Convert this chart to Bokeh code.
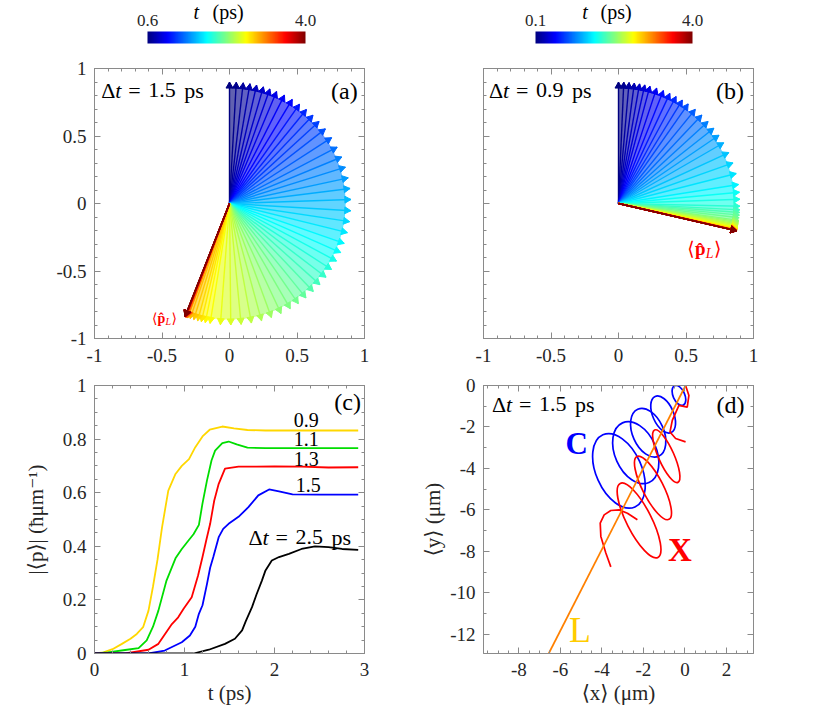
import numpy as np
from bokeh.plotting import figure
from bokeh.models import Range1d, LinearAxis, Label, FixedTicker, LinearColorMapper, ColumnDataSource
from bokeh.layouts import column, row
from bokeh.embed import file_html
from bokeh.resources import INLINE
from bokeh.transform import linear_cmap

FONT = "Liberation Serif, DejaVu Serif, serif"
GRAY = "#8a8a8a"
TXT = "#262626"

# ---------------- data: panel (a) arrow directions ----------------
t_a = [0.60, 0.65, 0.70, 0.75, 0.80, 0.85, 0.90, 0.95, 1.00, 1.05, 1.10, 1.15, 1.20, 1.25,
       1.30, 1.35, 1.40, 1.45, 1.50, 1.55, 1.60, 1.65, 1.70, 1.75, 1.80, 1.85, 1.90, 1.95,
       2.00, 2.05, 2.10, 2.15, 2.20, 2.25, 2.30, 2.35, 2.40, 2.45, 2.50, 2.55, 2.60, 2.65,
       2.70, 2.75, 2.80, 2.85, 2.90, 2.95, 3.00, 3.05, 3.10, 3.15, 3.20, 3.25, 3.30, 3.35,
       3.40, 3.45, 3.50, 3.55, 3.60, 3.65, 3.70, 3.75, 3.80, 3.85, 3.90, 3.95, 4.00]
ang_a = [90, 86.8, 83.5, 80.3, 77.1, 73.8, 70.6, 67.2, 63.1, 58.9, 54.8, 50.7, 46.6, 42.5,
         37.9, 32.8, 27.6, 22.5, 17.4, 12.2, 7.1, 1.9, -3.4, -8.6, -13.9, -19.2, -23.8, -28.3,
         -32.9, -37.4, -41.9, -46.4, -51.0, -55.5, -60.0, -64.9, -69.8, -74.7, -79.6, -84.5,
         -89.4, -94.3, -99.2, -101.5, -103.4, -105.2, -107.1, -108.9, -110.1, -110.2, -110.4,
         -110.5, -110.6, -110.8, -110.9, -111.0, -111.1, -111.1, -111.2, -111.2, -111.2,
         -111.3, -111.3, -111.3, -111.4, -111.4, -111.4, -111.5, -111.5]

# ---------------- data: panel (b) arrow directions ----------------
t_b = [0.100, 0.165, 0.230, 0.295, 0.360, 0.425, 0.490, 0.555, 0.620, 0.685, 0.750, 0.815,
       0.880, 0.945, 1.010, 1.075, 1.140, 1.205, 1.270, 1.335, 1.400, 1.465, 1.530, 1.595,
       1.660, 1.725, 1.790, 1.855, 1.920, 1.985, 2.050, 2.115, 2.180, 2.245, 2.310, 2.375,
       2.440, 2.505, 2.570, 2.635, 2.700, 2.765, 2.830, 2.895, 2.960, 3.025, 3.090, 3.155,
       3.220, 3.285, 3.350, 3.415, 3.480, 3.545, 3.610, 3.675, 3.740, 3.805, 3.870, 3.935, 4.000]
ang_b = [90, 87.5, 85, 82.5, 80, 77.5, 75, 71.7, 68.3, 65, 61.7, 58.3, 55, 50.8, 46.7, 42.5,
         38.3, 34.2, 30, 24.8, 19.5, 14.3, 9.0, 5.3, 2.0, -1.3, -3.0, -4.25, -5.5, -6.75, -8.0,
         -8.6, -9.2, -9.75, -10.3, -10.9, -11.5, -11.7, -11.9, -12.15, -12.4, -12.6, -12.8,
         -12.8, -12.8, -12.8, -12.85, -12.85, -12.9, -12.9, -12.9, -12.9, -12.95, -12.95,
         -12.95, -13, -13, -13, -13, -13, -13]

# ---------------- data: panel (c) |<p>| curves ----------------
t09 = [0, 0.1, 0.2, 0.3, 0.4, 0.47, 0.54, 0.6, 0.65, 0.7, 0.75, 0.82, 0.9, 0.97, 1.05, 1.12,
       1.2, 1.28, 1.42, 1.55, 1.7, 1.9, 2.2, 2.6, 2.93]
y09 = [0, 0.004, 0.016, 0.035, 0.055, 0.073, 0.098, 0.16, 0.25, 0.35, 0.47, 0.608, 0.67, 0.70,
       0.725, 0.77, 0.81, 0.835, 0.847, 0.84, 0.834, 0.832, 0.832, 0.832, 0.832]
t11 = [0, 0.15, 0.34, 0.49, 0.58, 0.65, 0.71, 0.8, 0.9, 0.97, 1.04, 1.1, 1.16, 1.2, 1.25, 1.3,
       1.34, 1.42, 1.49, 1.58, 1.7, 1.9, 2.2, 2.93]
y11 = [0, 0.004, 0.013, 0.02, 0.049, 0.10, 0.16, 0.272, 0.355, 0.39, 0.42, 0.445, 0.48, 0.56,
       0.646, 0.72, 0.757, 0.785, 0.791, 0.78, 0.768, 0.766, 0.766, 0.766]
t13 = [0, 0.34, 0.6, 0.71, 0.86, 0.93, 0.99, 1.08, 1.15, 1.2, 1.24, 1.285, 1.33, 1.38, 1.45,
       1.6, 1.8, 2.0, 2.3, 2.6, 2.93]
y13 = [0, 0, 0.014, 0.036, 0.11, 0.135, 0.167, 0.21, 0.29, 0.36, 0.42, 0.484, 0.57, 0.633,
       0.69, 0.697, 0.697, 0.698, 0.697, 0.694, 0.695]
t15 = [0, 0.6, 0.78, 0.97, 1.06, 1.12, 1.16, 1.2, 1.25, 1.285, 1.32, 1.38, 1.43, 1.49, 1.6,
       1.71, 1.82, 1.94, 2.05, 2.2, 2.5, 2.93]
y15 = [0, 0, 0.011, 0.042, 0.067, 0.10, 0.148, 0.18, 0.26, 0.32, 0.36, 0.434, 0.465, 0.484,
       0.51, 0.546, 0.59, 0.612, 0.605, 0.594, 0.593, 0.593]
t25 = [0, 1.1, 1.27, 1.45, 1.56, 1.64, 1.68, 1.75, 1.8, 1.86, 1.9, 1.97, 2.05, 2.16, 2.3, 2.45,
       2.6, 2.75, 2.93]
y25 = [0, 0, 0.014, 0.036, 0.055, 0.086, 0.12, 0.173, 0.22, 0.272, 0.31, 0.347, 0.36, 0.372,
       0.39, 0.40, 0.397, 0.39, 0.387]
curve_labels = ["0.9", "1.1", "1.3", "1.5"]
curve_label_t = [2.215, 2.215, 2.215, 2.235]
curve_label_y = [0.873, 0.80, 0.726, 0.63]

# ---------------- data: panel (d) trajectories ----------------
# circular (C): chain of loops, centre / full axes / tilt
blue_loop_x = [-0.29, -1.05, -1.77, -2.37, -3.18]
blue_loop_y = [-0.48, -1.40, -2.28, -3.24, -4.12]
blue_loop_w = [1.02, 1.9, 2.48, 3.14, 3.8]
blue_loop_h = [0.56, 1.0, 1.5, 2.0, 2.2]
blue_loop_ang = [-66, -66, -66, -66, -66]
# cross (X): start, loops, open end
red_start_x = [0.03, 0.19, 0.11, -0.29, -0.61, -0.72, -0.45, 0.03]
red_start_y = [0.0, -0.48, -1.04, -0.96, -1.68, -2.24, -2.56, -2.72]
red_loop_x = [-0.9, -1.54, -2.21]
red_loop_y = [-3.41, -4.94, -6.51]
red_loop_w = [2.76, 3.4, 4.0]
red_loop_h = [0.75, 1.0, 1.2]
red_loop_ang = [-66, -63, -63]
red_end_x = [-2.29, -2.77, -3.17, -3.57, -3.89, -4.08, -4.05, -3.81, -3.57]
red_end_y = [-6.48, -6.16, -6.0, -6.03, -6.24, -6.64, -7.28, -8.08, -8.75]
# linear (L)
lin_x = [0.03, -6.56]
lin_y = [0.0, -12.93]


def make_jet(n=256):
    out = []
    for i in range(n):
        v = i / (n - 1)
        r = min(max(1.5 - abs(4 * v - 3), 0), 1)
        g = min(max(1.5 - abs(4 * v - 2), 0), 1)
        b = min(max(1.5 - abs(4 * v - 1), 0), 1)
        out.append("#%02x%02x%02x" % (round(r * 255), round(g * 255), round(b * 255)))
    return out


JET = make_jet()


def style_axis(ax, ticks, minor, labels=True, overrides=None, standoff=8, size="19px"):
    ax.ticker = FixedTicker(ticks=ticks, minor_ticks=minor)
    ax.axis_line_color = GRAY
    ax.major_tick_line_color = GRAY
    ax.minor_tick_line_color = GRAY
    ax.major_tick_in = 6
    ax.major_tick_out = 0
    ax.minor_tick_in = 3
    ax.minor_tick_out = 0
    ax.major_label_text_font = FONT
    ax.major_label_text_color = TXT
    ax.axis_label_text_font = FONT
    ax.axis_label_text_font_style = "normal"
    ax.axis_label_text_font_size = "21px"
    ax.axis_label_text_color = TXT
    if labels:
        ax.major_label_text_font_size = size
        ax.major_label_standoff = standoff
        if overrides:
            ax.major_label_overrides = overrides
    else:
        ax.major_label_text_font_size = "1px"
        ax.major_label_text_color = None
        ax.major_label_standoff = 0


def panel(xr, yr, left, right, top, bottom, fh=270):
    p = figure(frame_width=270, frame_height=fh, x_range=xr, y_range=yr,
               output_backend="svg", toolbar_location=None,
               min_border_left=left, min_border_right=right,
               min_border_top=top, min_border_bottom=bottom,
               background_fill_color="white", border_fill_color="white",
               outline_line_color=GRAY)
    p.grid.visible = False
    return p


def add_mirror(p, xt, xm, yt, ym):
    top = LinearAxis()
    style_axis(top, xt, xm, labels=False)
    p.add_layout(top, "above")
    rgt = LinearAxis()
    style_axis(rgt, yt, ym, labels=False)
    p.add_layout(rgt, "right")


def pieces(p, x, y, parts, color="black", align="left"):
    for txt, style, dx, dy, sz in parts:
        p.add_layout(Label(x=x, y=y, x_offset=dx, y_offset=dy, text=txt, text_font=FONT,
                           text_font_size=f"{sz}px", text_font_style=style, text_color=color,
                           text_baseline="middle", text_align=align))


def delta_label(p, x, y, val, sz=22):
    pieces(p, x, y, [("\u0394", "normal", 0, 0, sz), ("t", "italic", 14, 0, sz),
                     ("=", "normal", 27, 0, sz), (val, "normal", 47, 0, sz),
                     ("ps", "normal", 83, 0, sz)])


def pl_label(p, x, y, sz):
    k = sz / 16.0
    pieces(p, x, y, [("\u27e8", "normal", 0, 0, sz), ("p\u0302", "bold", 6.5 * k, 0, sz),
                     ("L", "italic", 15.5 * k, -4 * k, round(sz * 0.72)),
                     ("\u27e9", "normal", 22.5 * k, 0, sz)], color="#ff0000")


def corner(p, x, y, txt):
    p.add_layout(Label(x=x, y=y, text=txt, text_font=FONT, text_font_size="24px",
                       text_align="right", text_baseline="middle", text_color="black"))


def fan(p, t, ang, lo, hi, R=0.9):
    angf = np.array(ang, dtype=float)
    tf = np.array(t, dtype=float)
    th = np.radians(angf)
    src = ColumnDataSource(dict(t=tf, x1=R * np.cos(th), y1=R * np.sin(th),
                                hx=(R - 0.03) * np.cos(th), hy=(R - 0.03) * np.sin(th),
                                ha=angf - 90))
    cmap = linear_cmap("t", JET, lo, hi)
    # shading between successive directions (colour of the earlier arrow)
    keep = (angf[:-1] - angf[1:]) > 0.05
    wsrc = ColumnDataSource(dict(t=tf[:-1][keep], a0=angf[1:][keep], a1=angf[:-1][keep]))
    p.wedge(x=0, y=0, radius=R - 0.04, start_angle="a0", end_angle="a1",
            start_angle_units="deg", end_angle_units="deg", direction="anticlock",
            source=wsrc, fill_color=cmap, fill_alpha=0.62, line_color=None)
    p.segment(x0=0, y0=0, x1="x1", y1="y1", source=src, line_color=cmap, line_width=1.4)
    p.scatter(x="hx", y="hy", source=src, marker="triangle", size=7, angle="ha",
              angle_units="deg", fill_color=cmap, line_color=cmap)


def colorbar_fig(W, L, R, lo, hi, tpos, pspos):
    k = (hi - lo) / (R - L)
    p = figure(width=W, height=56, x_range=Range1d(lo - L * k, hi + (W - R) * k),
               y_range=Range1d(0, 56), output_backend="svg", toolbar_location=None,
               min_border=0, x_axis_location=None, y_axis_location=None,
               outline_line_color=None, background_fill_color="white",
               border_fill_color="white")
    p.grid.visible = False
    grad = np.linspace(lo, hi, 256).reshape(1, 256)
    p.image(image=[grad], x=lo, y=13, dw=hi - lo, dh=12,
            color_mapper=LinearColorMapper(palette=JET, low=lo, high=hi))
    for v, s in [(lo, "%.1f" % lo), (hi, "%.1f" % hi)]:
        p.add_layout(Label(x=v, y=36, text=s, text_font=FONT, text_font_size="17px",
                           text_align="center", text_baseline="middle", text_color=TXT))
    p.add_layout(Label(x=tpos, y=45, text="t", text_font=FONT, text_font_size="20px",
                       text_font_style="italic", text_baseline="middle", text_color="black"))
    p.add_layout(Label(x=pspos, y=45, text="(ps)", text_font=FONT, text_font_size="20px",
                       text_baseline="middle", text_color="black"))
    return p


# tick settings
tk_ab = [-1, -0.5, 0, 0.5, 1]
mn_ab = [-1 + 0.1 * k for k in range(21)]
ov_ab = {-1: "-1", -0.5: "-0.5", 0: "0", 0.5: "0.5", 1: "1"}

# ---------------- colorbars ----------------
cbA = colorbar_fig(384, 147, 305, 0.6, 4.0, 1.59, 2.0)
cbB = colorbar_fig(384, 151, 308, 0.1, 4.0, 1.26, 1.715)

# ---------------- panel (a) ----------------
pa = panel(Range1d(-1, 1), Range1d(-1, 1), 94, 20, 12, 35)
style_axis(pa.xaxis[0], tk_ab, mn_ab, overrides=ov_ab, standoff=10)
style_axis(pa.yaxis[0], tk_ab, mn_ab, overrides=ov_ab, standoff=8)
add_mirror(pa, tk_ab, mn_ab, tk_ab, mn_ab)
fan(pa, t_a, ang_a, 0.6, 4.0)
delta_label(pa, -0.95, 0.84, "1.5")
corner(pa, 0.95, 0.83, "(a)")
pl_label(pa, -0.575, -0.85, 14)

# ---------------- panel (b) ----------------
pb = panel(Range1d(-1, 1), Range1d(-1, 1), 99, 15, 12, 35)
style_axis(pb.xaxis[0], tk_ab, mn_ab, overrides=ov_ab, standoff=10)
style_axis(pb.yaxis[0], tk_ab, mn_ab, labels=False)
add_mirror(pb, tk_ab, mn_ab, tk_ab, mn_ab)
fan(pb, t_b, ang_b, 0.1, 4.0)
delta_label(pb, -0.96, 0.84, "0.9")
corner(pb, 0.93, 0.83, "(b)")
pl_label(pb, 0.51, -0.335, 19)

# ---------------- panel (c) ----------------
tk_cx = [0, 1, 2, 3]
mn_cx = [0.2 * k for k in range(16)]
tk_cy = [0, 0.2, 0.4, 0.6, 0.8, 1.0]
mn_cy = [0.05 * k for k in range(21)]
pc = panel(Range1d(0, 3), Range1d(0, 1), 94, 20, 12, 52, fh=268)
style_axis(pc.xaxis[0], tk_cx, mn_cx, standoff=9,
           overrides={0: "0", 1: "1", 2: "2", 3: "3"})
style_axis(pc.yaxis[0], tk_cy, mn_cy, standoff=8,
           overrides={0: "0", 0.2: "0.2", 0.4: "0.4", 0.6: "0.6", 0.8: "0.8", 1.0: "1"})
pc.xaxis[0].axis_label = "t (ps)"
pc.xaxis[0].axis_label_standoff = 2
pc.yaxis[0].axis_label = "|\u27e8p\u27e9| (\u0127\u03bcm\u207b\u00b9)"
pc.yaxis[0].axis_label_standoff = 12
add_mirror(pc, tk_cx, mn_cx, tk_cy, mn_cy)
for tt, yy, col in [(t09, y09, "#ffd700"), (t11, y11, "#00dd00"), (t13, y13, "#ff0000"),
                    (t15, y15, "#0000ff"), (t25, y25, "#000000")]:
    pc.line(tt, yy, line_color=col, line_width=1.8)
for s, xx, yy in zip(curve_labels, curve_label_t, curve_label_y):
    pc.add_layout(Label(x=xx, y=yy, text=s, text_font=FONT, text_font_size="20px",
                        text_baseline="middle", text_color="black"))
delta_label(pc, 1.71, 0.434, "2.5")
corner(pc, 2.96, 0.938, "(c)")

# ---------------- panel (d) ----------------
tk_dx = [-8, -6, -4, -2, 0, 2]
mn_dx = [-9.5 + 0.5 * k for k in range(26)]
tk_dy = [-12, -10, -8, -6, -4, -2, 0]
mn_dy = [-12 + k for k in range(13)]
pd_ = panel(Range1d(-9.7, 3.3), Range1d(-12.93, 0), 99, 15, 12, 52, fh=268)
style_axis(pd_.xaxis[0], tk_dx, mn_dx, standoff=9, overrides={v: str(v) for v in tk_dx})
style_axis(pd_.yaxis[0], tk_dy, mn_dy, standoff=8, overrides={v: str(v) for v in tk_dy})
pd_.xaxis[0].axis_label = "\u27e8x\u27e9 (\u03bcm)"
pd_.xaxis[0].axis_label_standoff = 2
pd_.yaxis[0].axis_label = "\u27e8y\u27e9 (\u03bcm)"
pd_.yaxis[0].axis_label_standoff = 2
add_mirror(pd_, tk_dx, mn_dx, tk_dy, mn_dy)

pd_.ellipse(x=blue_loop_x, y=blue_loop_y, width=blue_loop_w, height=blue_loop_h,
            angle=blue_loop_ang, angle_units="deg", fill_color=None,
            line_color="#0000ff", line_width=1.7)
pd_.line(red_start_x, red_start_y, line_color="#ff0000", line_width=1.7)
pd_.ellipse(x=red_loop_x, y=red_loop_y, width=red_loop_w, height=red_loop_h,
            angle=red_loop_ang, angle_units="deg", fill_color=None,
            line_color="#ff0000", line_width=1.7)
pd_.line(red_end_x, red_end_y, line_color="#ff0000", line_width=1.7)
pd_.line(lin_x, lin_y, line_color="#ff8000", line_width=1.7)

delta_label(pd_, -9.29, -0.91, "1.5")
corner(pd_, 2.87, -0.93, "(d)")
pd_.add_layout(Label(x=-5.21, y=-2.8, text="C", text_font=FONT, text_font_size="31px",
                     text_font_style="bold", text_color="#0000ff", text_align="center",
                     text_baseline="middle"))
pd_.add_layout(Label(x=-0.24, y=-7.92, text="X", text_font=FONT, text_font_size="33px",
                     text_font_style="bold", text_color="#ff0000", text_align="center",
                     text_baseline="middle"))
pd_.add_layout(Label(x=-5.05, y=-11.8, text="L", text_font=FONT, text_font_size="36px",
                     text_color="#ffcc00", text_align="center", text_baseline="middle"))

layout = column(row(cbA, cbB), row(pa, pb), row(pc, pd_))
open("out.html", "w").write(file_html(layout, INLINE))
